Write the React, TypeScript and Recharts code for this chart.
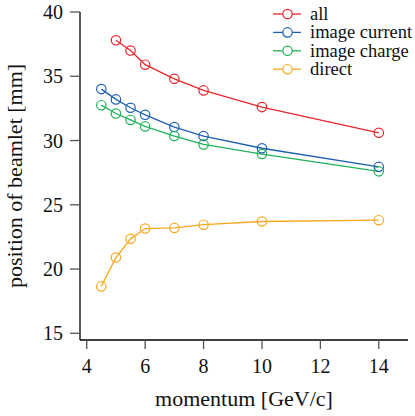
import React from 'react';
import { LineChart, Line, XAxis, YAxis } from 'recharts';

const momentum = [4.5, 5, 5.5, 6, 7, 8, 10, 14];
const allSeries = [null, 37.8, 37.0, 35.9, 34.8, 33.9, 32.6, 30.6];
const imageCurrent = [34.0, 33.2, 32.55, 32.0, 31.05, 30.35, 29.4, 27.95];
const imageCharge = [32.75, 32.1, 31.6, 31.1, 30.35, 29.7, 28.95, 27.6];
const direct = [18.65, 20.9, 22.35, 23.15, 23.2, 23.45, 23.7, 23.8];

const xTicks = [4, 6, 8, 10, 12, 14];
const yTicks = [15, 20, 25, 30, 35, 40];

const data = momentum.map((p, i) => ({
  p,
  all: allSeries[i],
  current: imageCurrent[i],
  charge: imageCharge[i],
  direct: direct[i],
}));

const series = [
  { key: 'all', name: 'all', color: '#e8262c' },
  { key: 'current', name: 'image current', color: '#1c5fb3' },
  { key: 'charge', name: 'image charge', color: '#20b25a' },
  { key: 'direct', name: 'direct', color: '#f8a81e' },
];

const FONT = 'Liberation Serif, DejaVu Serif, serif';

const LegendBox = () => (
  <svg width={145} height={80} style={{ position: 'absolute', left: 270, top: 3 }}>
    {series.map((s, i) => {
      const y = 11 + i * 18.4;
      return (
        <g key={s.key}>
          <line x1={3} x2={31} y1={y} y2={y} stroke={s.color} strokeWidth={1.3} />
          <circle cx={17.5} cy={y} r={4.7} fill="#fff" stroke={s.color} strokeWidth={1.2} />
          <text x={40} y={y + 6} style={{ fontFamily: FONT, fontSize: 18.5 }} fill="#111">
            {s.name}
          </text>
        </g>
      );
    })}
  </svg>
);

export default function App() {
  return (
    <div
      style={{
        position: 'absolute',
        left: 0,
        top: 0,
        width: 415,
        height: 416,
        background: '#fff',
        fontFamily: FONT,
      }}
    >
      <LineChart
        width={415}
        height={416}
        data={data}
        margin={{ top: 12, right: 7, bottom: 0, left: 0 }}
        style={{ fontFamily: FONT }}
      >
        <XAxis
          dataKey="p"
          type="number"
          domain={[3.77, 15]}
          ticks={xTicks}
          allowDataOverflow
          height={76}
          axisLine={{ stroke: '#000', strokeWidth: 1.3 }}
          tickLine={{ stroke: '#555', strokeWidth: 1.3 }}
          tickSize={9}
          tickMargin={10}
          tick={{ fill: '#111', fontSize: 20, style: { fontFamily: FONT } }}
          label={{
            value: 'momentum [GeV/c]',
            position: 'insideBottom',
            offset: 10,
            fill: '#111',
            fontSize: 22,
            style: { fontFamily: FONT },
          }}
        />
        <YAxis
          type="number"
          domain={[14.48, 40]}
          ticks={yTicks}
          allowDataOverflow
          width={80}
          axisLine={{ stroke: '#000', strokeWidth: 1.3 }}
          tickLine={{ stroke: '#555', strokeWidth: 1.3 }}
          tickSize={10}
          tickMargin={7}
          tick={{ fill: '#111', fontSize: 20, style: { fontFamily: FONT } }}
          label={{
            value: 'position of beamlet [mm]',
            angle: -90,
            position: 'insideLeft',
            offset: 14,
            style: { textAnchor: 'middle', fontFamily: FONT },
            fill: '#111',
            fontSize: 22,
          }}
        />
        {series.map((s) => (
          <Line
            key={s.key}
            dataKey={s.key}
            name={s.name}
            type="linear"
            stroke={s.color}
            strokeWidth={1.3}
            dot={{ r: 4.7, fill: 'none', stroke: s.color, strokeWidth: 1.2 }}
            activeDot={false}
            isAnimationActive={false}
          />
        ))}
      </LineChart>
      <LegendBox />
    </div>
  );
}
